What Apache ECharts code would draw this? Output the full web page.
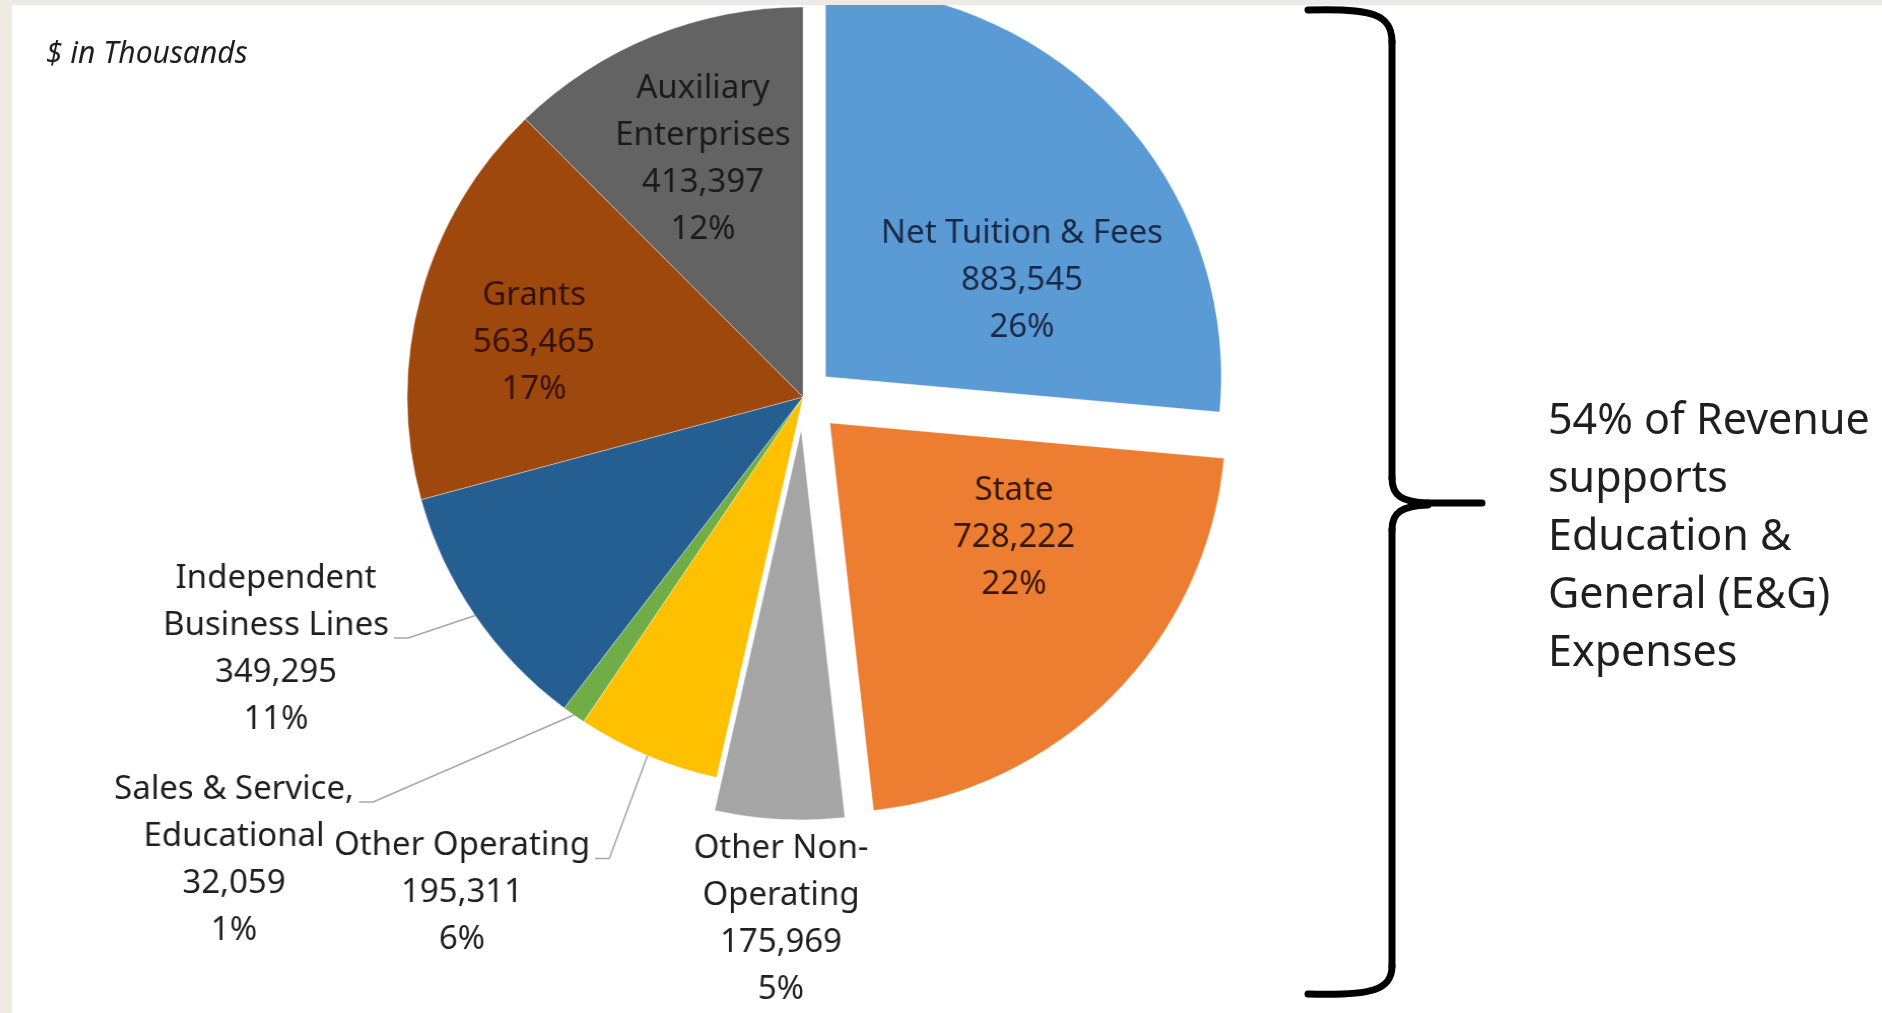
<!DOCTYPE html>
<html>
<head>
<meta charset="utf-8">
<script src="https://cdn.jsdelivr.net/npm/echarts@6/dist/echarts.min.js"></script>
<style>
html, body { margin: 0; padding: 0; background: #ffffff; }
#wrap { position: relative; width: 1882px; height: 1013px; overflow: hidden; }
#pie, #overlay { position: absolute; left: 0; top: 0; width: 1882px; height: 1013px; }
</style>
</head>
<body>
<div id="wrap">
  <div id="pie"></div>
  <div id="overlay"></div>
</div>
<script>
// ---- data ----
const categories = [
  'Net Tuition & Fees', 'State', 'Other Non-Operating', 'Other Operating',
  'Sales & Service, Educational', 'Independent Business Lines', 'Grants', 'Auxiliary Enterprises'
];
const values = [883545, 728222, 175969, 195311, 32059, 349295, 563465, 413397];
const labelNames = [
  'Net Tuition & Fees', 'State', 'Other Non-\nOperating', 'Other Operating',
  'Sales & Service,\nEducational', 'Independent\nBusiness Lines', 'Grants', 'Auxiliary\nEnterprises'
];
const explodedSlices = ['Net Tuition & Fees', 'State', 'Other Non-Operating'];
const noteText = '$ in Thousands';
const sideText = '54% of Revenue\nsupports\nEducation &\nGeneral (E&G)\nExpenses';

// ---- styles / layout ----
const colors = ['#5B9BD5', '#ED7D31', '#A5A5A5', '#FFC000', '#70AD47', '#255E91', '#9E480E', '#636363'];
const labelColors = ['#1a2a44', '#361804', '#1f1f1f', '#1f1f1f', '#1f1f1f', '#1f1f1f', '#361204', '#1a1a1a'];
const labelInside = [true, true, false, false, false, false, true, true];
const showLeader = [false, false, false, true, true, true, false, false];
const leaderLineIdx = [0, 0, 0, 1, 1, 2, 0, 0];
const explodeOffset = [30, 37, 33, 0, 0, 0, 0, 0];
// label centres as seen on the page
const labelPos = [[1022, 281], [1014, 538], [781, 919], [462, 893], [234, 860], [276, 649], [534, 343], [703, 159]];
const CENTER = [803, 397];
const RADIUS = 390;
// the original pie is a touch wider than tall: stretch the pie layer slightly
const SX = 1.015, SY = 1.0;
const LINE_H = 47 / SY;
const FONT = '"Noto Sans", "Open Sans", sans-serif';
const border = { borderColor: 'rgba(255,255,255,0.35)', borderWidth: 1 };
const hidden = { color: 'rgba(0,0,0,0)', borderWidth: 0 };

const pieEl = document.getElementById('pie');
pieEl.style.transformOrigin = CENTER[0] + 'px ' + CENTER[1] + 'px';
pieEl.style.transform = 'scale(' + SX + ',' + SY + ')';

function toPieSpace(p) {
  return [CENTER[0] + (p[0] - CENTER[0]) / SX, CENTER[1] + (p[1] - CENTER[1]) / SY];
}

const pieChart = echarts.init(pieEl, null, { renderer: 'canvas' });
const overlay = echarts.init(document.getElementById('overlay'), null, { renderer: 'canvas' });

// bisector angle of every slice (clockwise from 12 o'clock), used for the exploded slices
const total = values.reduce(function (a, b) { return a + b; }, 0);
let acc = 0;
const midAngles = values.map(function (v) {
  const a = (90 - 360 * (acc + v / 2) / total) * Math.PI / 180;
  acc += v;
  return a;
});

function buildSeries(visible, center) {
  return {
    type: 'pie',
    center: center,
    radius: RADIUS,
    startAngle: 90,
    clockwise: true,
    avoidLabelOverlap: false,
    percentPrecision: 0,
    silent: true,
    emphasis: { disabled: true },
    label: {
      show: true,
      fontFamily: FONT,
      fontSize: 32.5,
      lineHeight: LINE_H,
      align: 'center',
      formatter: function (p) {
        return labelNames[p.dataIndex] + '\n' + p.value.toLocaleString('en-US') + '\n' + p.percent + '%';
      }
    },
    labelLine: {
      show: true,
      length: 20,
      length2: 10,
      lineStyle: { color: '#a6a6a6', width: 1.5 }
    },
    labelLayout: function (p) {
      const i = p.dataIndex;
      const pos = toPieSpace(labelPos[i]);
      const out = { x: pos[0], y: pos[1], align: 'center', verticalAlign: 'middle' };
      if (showLeader[i] && p.labelLinePoints) {
        const h = p.labelRect.height;
        const w = p.labelRect.width;
        const top = pos[1] - h / 2;
        const ay = top + LINE_H * leaderLineIdx[i] - 11;
        const ax = pos[0] + w / 2 + 5;
        out.labelLinePoints = [p.labelLinePoints[0], [ax + 14, ay], [ax, ay]];
      }
      return out;
    },
    data: categories.map(function (name, i) {
      const on = visible.indexOf(i) >= 0;
      return {
        name: name,
        value: values[i],
        itemStyle: on ? Object.assign({ color: colors[i] }, border) : hidden,
        label: on ? { show: true, position: labelInside[i] ? 'inside' : 'outside', color: labelColors[i] } : { show: false },
        labelLine: { show: on && showLeader[i] }
      };
    })
  };
}

const series = [];
const mainVisible = [];
categories.forEach(function (name, i) {
  if (explodedSlices.indexOf(name) < 0) mainVisible.push(i);
});
series.push(buildSeries(mainVisible, CENTER));
categories.forEach(function (name, i) {
  if (explodedSlices.indexOf(name) >= 0) {
    const off = explodeOffset[i];
    series.push(buildSeries([i], [CENTER[0] + off * Math.cos(midAngles[i]), CENTER[1] - off * Math.sin(midAngles[i])]));
  }
});

pieChart.setOption({
  animation: false,
  backgroundColor: 'transparent',
  series: series
});

const braceStyle = { fill: 'none', stroke: '#000000', lineWidth: 7, lineCap: 'round' };
function curve(x1, y1, c1x, c1y, c2x, c2y, x2, y2) {
  return { type: 'bezierCurve', z: 100, shape: { x1: x1, y1: y1, cpx1: c1x, cpy1: c1y, cpx2: c2x, cpy2: c2y, x2: x2, y2: y2 }, style: braceStyle };
}
function seg(x1, y1, x2, y2) {
  return { type: 'line', z: 100, shape: { x1: x1, y1: y1, x2: x2, y2: y2 }, style: braceStyle };
}

overlay.setOption({
  animation: false,
  backgroundColor: 'transparent',
  graphic: [
    { type: 'rect', z: 100, shape: { x: 0, y: 0, width: 12, height: 1013 }, style: { fill: '#EEEBE4' } },
    { type: 'rect', z: 100, shape: { x: 0, y: 0, width: 1882, height: 5 }, style: { fill: '#EEEBE4' } },
    {
      type: 'text', z: 100, x: 46, y: 54,
      style: { text: noteText, fontFamily: FONT, fontStyle: 'italic', fontSize: 30, fill: '#1f1f1f', verticalAlign: 'middle' }
    },
    curve(1308, 10, 1372, 8, 1392, 14, 1392, 42),
    seg(1392, 42, 1392, 478),
    curve(1392, 478, 1392, 496, 1402, 502, 1428, 503),
    seg(1428, 503, 1482, 503),
    curve(1428, 505, 1402, 506, 1392, 512, 1392, 530),
    seg(1392, 530, 1392, 966),
    curve(1392, 966, 1392, 990, 1372, 996, 1308, 994),
    {
      type: 'text', z: 100, x: 1548, y: 538,
      style: { text: sideText, fontFamily: FONT, fontSize: 43, lineHeight: 58, fill: '#1f1f1f', verticalAlign: 'middle' }
    }
  ]
});
</script>
</body>
</html>
